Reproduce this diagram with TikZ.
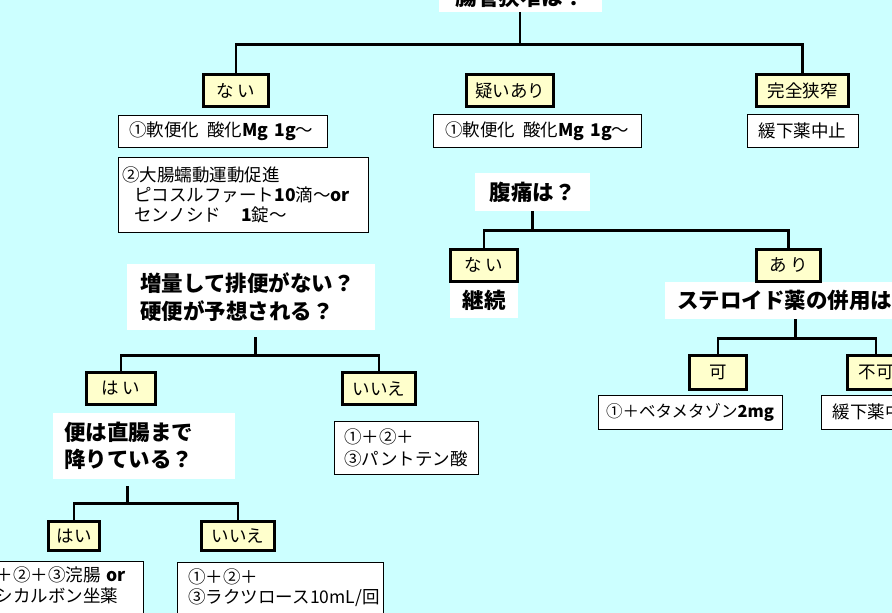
\documentclass[tikz,border=0pt]{standalone}
\usepackage{fontspec}
\setmainfont{Noto Sans CJK JP}
\usepackage{tikz}

\definecolor{skybg}{RGB}{204,255,255}
\definecolor{labelyellow}{RGB}{255,255,204}
\tikzset{
  branch/.style={line width=2.6pt},
  answer/.style={draw, line width=3pt, fill=labelyellow, inner sep=0pt, minimum height=32pt, font=\fontsize{17.5}{19}\selectfont},
  question/.style={fill=white, inner sep=0pt, font=\bfseries\fontsize{21.5}{28}\selectfont},
  care/.style={draw, line width=0.9pt, fill=white, inner sep=0pt, font=\fontsize{17.5}{20}\selectfont},
  carelist/.style={care, align=left, anchor=north west, inner xsep=11pt},
}

\begin{document}
\begin{tikzpicture}[x=1pt, y=-1pt]
  \useasboundingbox (0,0) rectangle (892,613);
  \clip (0,0) rectangle (892,613);
  \fill[skybg] (0,0) rectangle (892,613);

  \node[question, minimum width=163pt, minimum height=30pt] (title) at (520,-3) {腸管狭窄は？};
  \node[answer, minimum width=65pt] (nai1) at (236,90.5) {な い};
  \node[answer, minimum width=87pt] (utagai) at (510,90.5) {疑いあり};
  \node[answer, minimum width=92pt] (kanzen) at (802.5,90.5) {完全狭窄};

  \node[carelist, text width=187pt, minimum height=32pt] (soft1) at (118,115) {①軟便化\hspace{8pt}酸化\textbf{Mg 1g}～};
  \node[carelist, inner xsep=4pt, text width=242pt, minimum height=75pt, font=\fontsize{17.5}{20}\selectfont] (peri) at (118,157)
    {②大腸蠕動運動促進\\\hspace*{12pt}ピコスルファート\textbf{10}滴～\textbf{or}\\\hspace*{12pt}センノシド\hspace{20pt}\textbf{1}錠～};
  \node[carelist, inner xsep=12pt, text width=184pt, minimum height=33pt] (soft2) at (433,114) {①軟便化\hspace{8pt}酸化\textbf{Mg 1g}～};
  \node[care, minimum width=111pt, minimum height=33pt] (stop1) at (802.5,130.5) {緩下薬中止};

  \node[question, minimum width=115pt, minimum height=38pt] (fukutsu) at (532.5,192) {腹痛は？};
  \node[question, anchor=west, inner xsep=12pt, minimum height=37pt] (steroid) at (665,300.5) {ステロイド薬の併用は？};
  \node[answer, minimum width=67pt] (nai2) at (484,265) {な い};
  \node[answer, minimum width=64pt] (ari) at (788.5,265) {あ り};
  \node[question, minimum width=68pt, minimum height=35pt] (keizoku) at (484,300.5) {継続};

  \node[answer, minimum width=57pt, minimum height=34pt] (ka) at (718,372.5) {可};
  \node[answer, minimum width=57pt, minimum height=34pt] (fuka) at (876,372.5) {不可};
  \node[care, minimum width=184pt, minimum height=34pt, font=\fontsize{16.5}{20}\selectfont] (beta) at (690,412) {①＋ベタメタゾン\textbf{2mg}};
  \node[care, minimum width=111pt, minimum height=34pt] (stop2) at (876.5,412) {緩下薬中止};

  \node[question, align=left, anchor=north west, inner xsep=13pt, text width=222pt, minimum height=66pt] (zouryou) at (127,264)
    {増量して排便がない？\\硬便が予想される？};
  \node[answer, minimum width=69pt] (hai1) at (121,388.5) {は い};
  \node[answer, minimum width=73pt] (iie1) at (379,388.5) {いいえ};
  \node[question, align=left, anchor=north west, inner xsep=11pt, text width=160pt, minimum height=66pt, font=\bfseries\fontsize{21.5}{27}\selectfont] (ben) at (53,413)
    {便は直腸まで\\降りている？};
  \node[carelist, inner xsep=10pt, text width=124pt, minimum height=53pt, font=\fontsize{17.5}{22}\selectfont] (pant) at (334,421) {①＋②＋\\③パントテン酸};

  \node[answer, minimum width=51pt, minimum height=29pt] (hai2) at (74,536) {はい};
  \node[answer, minimum width=73pt, minimum height=29pt] (iie2) at (238,536) {いいえ};
  \node[carelist, inner xsep=4pt, inner ysep=5pt, text width=161pt, text depth=70pt, font=\fontsize{17.5}{21}\selectfont] (enema) at (-26,561)
    {①＋②＋③浣腸 \textbf{or}\\レシカルボン坐薬};
  \node[carelist, inner ysep=6pt, text width=184pt, text depth=70pt] (lactu) at (177,562) {①＋②＋\\③ラクツロース10mL/回};

  \draw[branch] (title.south) -- ++(0,32) coordinate (j1);
  \draw[branch] (nai1.north) |- (j1) -| (kanzen.north);
  \draw[branch] (fukutsu.south) -- ++(0,19) coordinate (j2);
  \draw[branch] (nai2.north) |- (j2) -| (ari.north);
  \draw[branch] (steroid.south) -- ++(0,19) coordinate (j3);
  \draw[branch] (ka.north) |- (j3) -| (fuka.north);
  \draw[branch] (zouryou.south) ++(4,7) -- ++(0,18) coordinate (j4);
  \draw[branch] (hai1.north) |- (j4) -| (iie1.north);
  \draw[branch] (ben.south) ++(-17,7) -- ++(0,17) coordinate (j5);
  \draw[branch] (hai2.north) |- (j5) -| (iie2.north);
\end{tikzpicture}
\end{document}
